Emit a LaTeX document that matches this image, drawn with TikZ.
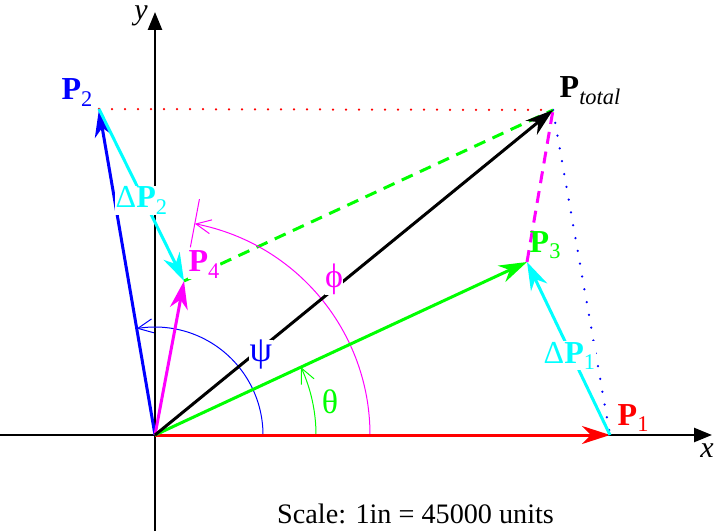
\documentclass[tikz,border=0pt]{standalone}
\usepackage{fontspec}
\setmainfont{Liberation Serif}
\usetikzlibrary{arrows.meta,bending}
\definecolor{vred}{RGB}{255,0,0}
\definecolor{vblue}{RGB}{0,0,255}
\definecolor{vgreen}{RGB}{0,255,0}
\definecolor{vcyan}{RGB}{0,255,255}
\definecolor{vmag}{RGB}{255,0,255}
\newcommand\bP{\textbf{P}}
\begin{document}
\begin{tikzpicture}[x=1pt,y=1pt,
  vec/.style={line width=3pt, -{Stealth[length=28pt,width=18pt,inset=9pt]}},
  axisline/.style={line width=2.5pt, -{Triangle[length=18pt,width=14pt]}},
  angarc/.style={line width=1pt, -{Straight Barb[length=15pt,width=14pt]}},
  dotline/.style={line width=2.5pt, line cap=round, dash pattern=on 0pt off 13pt},
  dashline/.style={line width=3pt, dash pattern=on 12pt off 8pt},
  lbl/.style={font=\fontsize{32}{36}\selectfont, inner sep=0.5pt},
  ]
\useasboundingbox (0,0) rectangle (715,531);
\coordinate (O) at (155,96);
\coordinate (P1) at (610,96);
\coordinate (P2) at (99,422);
\coordinate (P3) at (527,269);
\coordinate (P4) at (184,250);
\coordinate (Pt) at (553,421);
\coordinate (xs) at (0,96);
\coordinate (xe) at (712,96);
\coordinate (ys) at (155,0);
\coordinate (ye) at (155,519);
% axes
\draw[axisline] (xs) -- (xe);
\draw[axisline] (ys) -- (ye);
% dotted / dashed
\draw[vred, dotline] (P2) -- (Pt);
\draw[vblue, dotline] (Pt) -- (P1);
\draw[vgreen, dashline] (P4) -- (Pt);
\draw[vmag, dashline] (P3) -- (Pt);
% angle arcs
\draw[vblue, angarc] (O) ++(0:108) arc[start angle=0, end angle=99.75, radius=108];
\draw[vgreen, angarc] (O) ++(0:161) arc[start angle=0, end angle=24.94, radius=161];
\draw[vmag, angarc] (O) ++(0:215) arc[start angle=0, end angle=79.33, radius=215];
\draw[vmag, line width=1pt] (O) ++(79.33:191) -- ++(79.33:49);
% vectors
\draw[vred, vec] (O) -- (P1);
\draw[vblue, vec] (O) -- (P2);
\draw[vmag, vec] (O) -- (P4);
\draw[vgreen, vec] (O) -- (P3);
\draw[black, vec] (O) -- (Pt);
\draw[vcyan, vec] (P1) -- (P3);
\draw[vcyan, vec] (P2) -- (P4);
% labels
\node[lbl, vblue, anchor=base west] (lP2) at (61,431) {\bP\textsubscript{2}};
\node[lbl, anchor=base west] (lPt) at (559,433) {\bP\textsubscript{\itshape total}};
\node[lbl, vgreen, anchor=base west] (lP3) at (529,279) {\bP\textsubscript{3}};
\node[lbl, vmag, fill=white, anchor=base west] (lP4) at (188,259) {\bP\textsubscript{4}};
\node[lbl, vred, anchor=base west] (lP1) at (617,106) {\bP\textsubscript{1}};
\node[lbl, vcyan, fill=white, anchor=base west] (lD1) at (543,168) {Δ\bP\textsubscript{1}};
\node[lbl, vcyan, fill=white, anchor=base west] (lD2) at (115,323) {Δ\bP\textsubscript{2}};
\node[lbl, vblue, fill=white, font=\fontsize{36}{40}\selectfont] (psi) at (261,176) {ψ};
\node[lbl, vgreen, font=\fontsize{34}{40}\selectfont] (theta) at (330,129) {θ};
\node[lbl, vmag, fill=white, font=\fontsize{34}{40}\selectfont] (phi) at (334,252) {ϕ};
\node[font=\fontsize{30}{36}\selectfont\itshape, inner sep=0pt, anchor=base] (xl) at (707,74) {x};
\node[font=\fontsize{30}{36}\selectfont\itshape, inner sep=0pt, anchor=base] (yl) at (141,511) {y};
\node[font=\fontsize{28.2}{34}\selectfont, anchor=base west, inner sep=0pt] (scale) at (277,8) {Scale: 1in = 45000 units};
\end{tikzpicture}
\end{document}
